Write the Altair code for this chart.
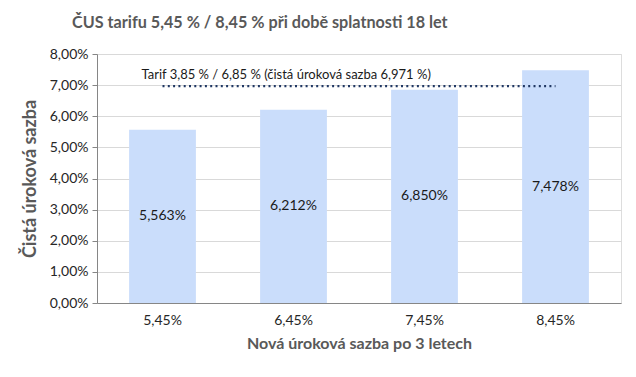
import altair as alt
import pandas as pd

categories = ["5,45%", "6,45%", "7,45%", "8,45%"]
values = [0.05563, 0.06212, 0.06850, 0.07478]
value_labels = ["5,563%", "6,212%", "6,850%", "7,478%"]
tarif_value = 0.06971
tarif_label = "Tarif 3,85  % / 6,85  % (čistá úroková sazba 6,971  %)"
y_ticks = [0, 0.01, 0.02, 0.03, 0.04, 0.05, 0.06, 0.07, 0.08]

df = pd.DataFrame({
    "cat": categories,
    "v": values,
    "lab": value_labels,
    "tarif": [tarif_value] * len(categories),
    "tlab": [tarif_label] + [""] * (len(categories) - 1),
})

FONT = "Lato"
GRAY = "#595959"

xscale = alt.Scale(paddingInner=0.49, paddingOuter=0.245)
yscale = alt.Scale(domain=[0, 0.08], nice=False)

x_axis = alt.Axis(
    title="Nová úroková sazba po 3 letech", labelAngle=0, ticks=False,
    labelPadding=10, labelFontSize=14, labelColor="#262626", labelFont=FONT,
    titleFont=FONT, titleFontSize=16, titleFontWeight="bold", titleColor=GRAY,
    titlePadding=8, domainColor="#868686", grid=False)

y_axis = alt.Axis(
    title="Čistá úroková sazba", values=y_ticks, labelOverlap=False,
    labelExpr="replace(format(datum.value, '.2%'), '.', ',')",
    labelFontSize=14, labelColor="#262626", labelFont=FONT, labelPadding=4,
    tickSize=5, tickColor="#868686", domainColor="#868686",
    gridColor="#D9D9D9", titleFont=FONT, titleFontSize=18, titleFontWeight="bold",
    titleColor=GRAY, titlePadding=10)

def X():
    return alt.X("cat:N", sort=None, scale=xscale, axis=x_axis)

def Y(field):
    return alt.Y(field, scale=yscale, axis=y_axis)

base = alt.Chart(df)

bars = base.mark_bar(color="#CADDFB").encode(x=X(), y=Y("v:Q"))

texts = base.transform_calculate(mid="datum.v / 2").mark_text(
    font=FONT, fontSize=14, color="#1a1a1a", baseline="middle").encode(
    x=X(), y=Y("mid:Q"), text="lab:N",
)

line = base.mark_line(color="#203864", strokeWidth=2.2, strokeDash=[2, 3.3], strokeCap="butt").encode(
    x=X(), y=Y("tarif:Q"),
)

tarif_text = base.transform_filter("datum.tlab != ''").mark_text(
    font=FONT, fontSize=13, color="#1a1a1a", align="left", baseline="middle", dx=-21, dy=-11).encode(
    x=X(), y=Y("tarif:Q"), text="tlab:N",
)

chart = alt.layer(bars, texts, line, tarif_text).properties(
    width=524, height=249,
    autosize=alt.AutoSizeParams(type="none"),
    padding={"left": 97, "top": 54, "right": 15, "bottom": 74},
    title=alt.TitleParams(
        "ČUS  tarifu 5,45 % / 8,45 % při době splatnosti  18 let",
        anchor="start", frame="group", dx=-25, offset=16, font=FONT, fontSize=16.2,
        fontWeight="bold", color=GRAY),
).configure_view(stroke=None).configure(background="white")

chart.save("out.html", embed_options={"renderer": "svg", "actions": False})
